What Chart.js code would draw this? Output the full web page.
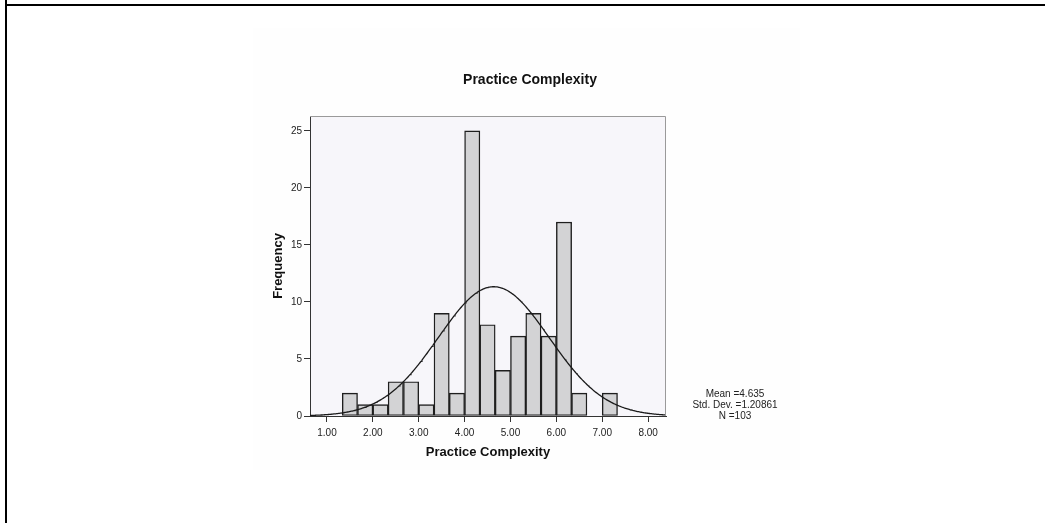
<!DOCTYPE html>
<html>
<head>
<meta charset="utf-8">
<title>Practice Complexity</title>
<script src="https://cdn.jsdelivr.net/npm/chart.js@4.4.1/dist/chart.umd.min.js"></script>
<style>
  html, body { margin: 0; padding: 0; background: #ffffff; }
  #wrap { width: 1045px; height: 523px; position: relative; }
  canvas { display: block; }
</style>
</head>
<body>
<div id="wrap"><canvas id="c" width="1045" height="523"></canvas></div>
<script>
// Histogram bins: lower edge of each bin and its frequency
const binLowerEdges = [1.333, 1.667, 2.000, 2.333, 2.667, 3.000, 3.333, 3.667, 4.000,
                       4.333, 4.667, 5.000, 5.333, 5.667, 6.000, 6.333, 6.667, 7.000];
const binWidth = 1 / 3;
const frequencies = [2, 1, 1, 3, 3, 1, 9, 2, 25, 8, 4, 7, 9, 7, 17, 2, 0, 2];

// Summary statistics of the sample (drives the fitted normal curve)
const statMean = 4.635;
const statStdDev = 1.20861;
const statN = 103;

// Axis ticks and ranges
const xTickValues = [1, 2, 3, 4, 5, 6, 7, 8];
const yTickValues = [0, 5, 10, 15, 20, 25];
const xRange = [0.63, 8.39];
const yRange = [0, 26.3];

const chartTitle = 'Practice Complexity';
const xAxisTitle = 'Practice Complexity';
const yAxisTitle = 'Frequency';
const statLines = ['Mean =' + statMean, 'Std. Dev. =' + statStdDev, 'N =' + statN];

const barPoints = binLowerEdges.map((e, i) => ({ x: e + binWidth / 2, y: frequencies[i] }));

// Normal density scaled to counts per bin
const curvePoints = [];
const peak = statN * binWidth / (statStdDev * Math.sqrt(2 * Math.PI));
for (let x = xRange[0]; x <= xRange[1] + 1e-9; x += 0.02) {
  const z = (x - statMean) / statStdDev;
  curvePoints.push({ x: x, y: peak * Math.exp(-0.5 * z * z) });
}

const FONT = "'Liberation Sans', Arial, sans-serif";

const decor = {
  id: 'decor',
  beforeDraw(chart) {
    const { ctx, chartArea: a } = chart;
    ctx.save();
    ctx.fillStyle = '#ffffff';
    ctx.fillRect(0, 0, chart.width, chart.height);
    ctx.fillStyle = '#fefefe';
    ctx.fillRect(253, 28, 547, 442);
    ctx.fillStyle = '#f7f6fa';
    ctx.fillRect(a.left, a.top, a.right - a.left, a.bottom - a.top);
    ctx.restore();
  },
  afterDraw(chart) {
    const { ctx, chartArea: a } = chart;
    ctx.save();
    // plot frame, top and right edges
    ctx.strokeStyle = '#9a9a9a';
    ctx.lineWidth = 1;
    ctx.beginPath();
    ctx.moveTo(a.left, a.top + 0.5);
    ctx.lineTo(a.right - 0.5, a.top + 0.5);
    ctx.lineTo(a.right - 0.5, a.bottom);
    ctx.stroke();

    // chart title
    ctx.fillStyle = '#111111';
    ctx.font = 'bold 14px ' + FONT;
    ctx.textAlign = 'center';
    ctx.textBaseline = 'middle';
    ctx.fillText(chartTitle, 530, 80);

    // summary statistics
    ctx.font = '10px ' + FONT;
    ctx.fillStyle = '#222222';
    statLines.forEach((t, i) => ctx.fillText(t, 735, 394 + i * 11));

    // outer page frame
    ctx.fillStyle = '#000000';
    ctx.fillRect(5, 0, 2, chart.height);
    ctx.fillRect(5, 4, chart.width - 5, 2);
    ctx.restore();
  }
};

new Chart(document.getElementById('c'), {
  type: 'bar',
  data: {
    datasets: [
      {
        type: 'line',
        data: curvePoints,
        borderColor: '#1a1a1a',
        borderWidth: 1.3,
        pointRadius: 0,
        tension: 0,
        fill: false,
        order: 0
      },
      {
        type: 'bar',
        data: barPoints,
        backgroundColor: '#d3d3d5',
        borderColor: '#1e1e1e',
        borderWidth: 1.4,
        borderSkipped: false,
        barPercentage: 1,
        categoryPercentage: 1,
        order: 1
      }
    ]
  },
  options: {
    responsive: false,
    animation: false,
    devicePixelRatio: 1,
    layout: { padding: { left: 265, right: 379, top: 116, bottom: 50 } },
    plugins: { legend: { display: false }, tooltip: { enabled: false }, title: { display: false } },
    scales: {
      x: {
        type: 'linear',
        min: xRange[0],
        max: xRange[1],
        offset: false,
        afterBuildTicks: s => { s.ticks = xTickValues.map(v => ({ value: v })); },
        afterFit: s => { s.height = 57; },
        grid: { offset: false, drawOnChartArea: false, drawTicks: true, tickLength: 6, color: '#333333' },
        border: { display: true, color: '#333333', width: 1 },
        ticks: {
          padding: 5,
          maxRotation: 0,
          autoSkip: false,
          color: '#222222',
          font: { family: FONT, size: 10 },
          callback: v => Number(v).toFixed(2)
        },
        title: {
          display: true,
          text: xAxisTitle,
          color: '#111111',
          font: { family: FONT, size: 13, weight: 'bold' },
          padding: { top: 0, bottom: 13 }
        }
      },
      y: {
        type: 'linear',
        min: yRange[0],
        max: yRange[1],
        afterBuildTicks: s => { s.ticks = yTickValues.map(v => ({ value: v })); },
        afterFit: s => { s.width = 45; },
        grid: { drawOnChartArea: false, drawTicks: true, tickLength: 6, color: '#333333' },
        border: { display: true, color: '#333333', width: 1 },
        ticks: {
          padding: 2,
          color: '#222222',
          font: { family: FONT, size: 10 },
          callback: v => String(v)
        },
        title: {
          display: true,
          text: yAxisTitle,
          color: '#111111',
          font: { family: FONT, size: 13, weight: 'bold' },
          padding: { top: 6, bottom: 0 }
        }
      }
    }
  },
  plugins: [decor]
});
</script>
</body>
</html>
